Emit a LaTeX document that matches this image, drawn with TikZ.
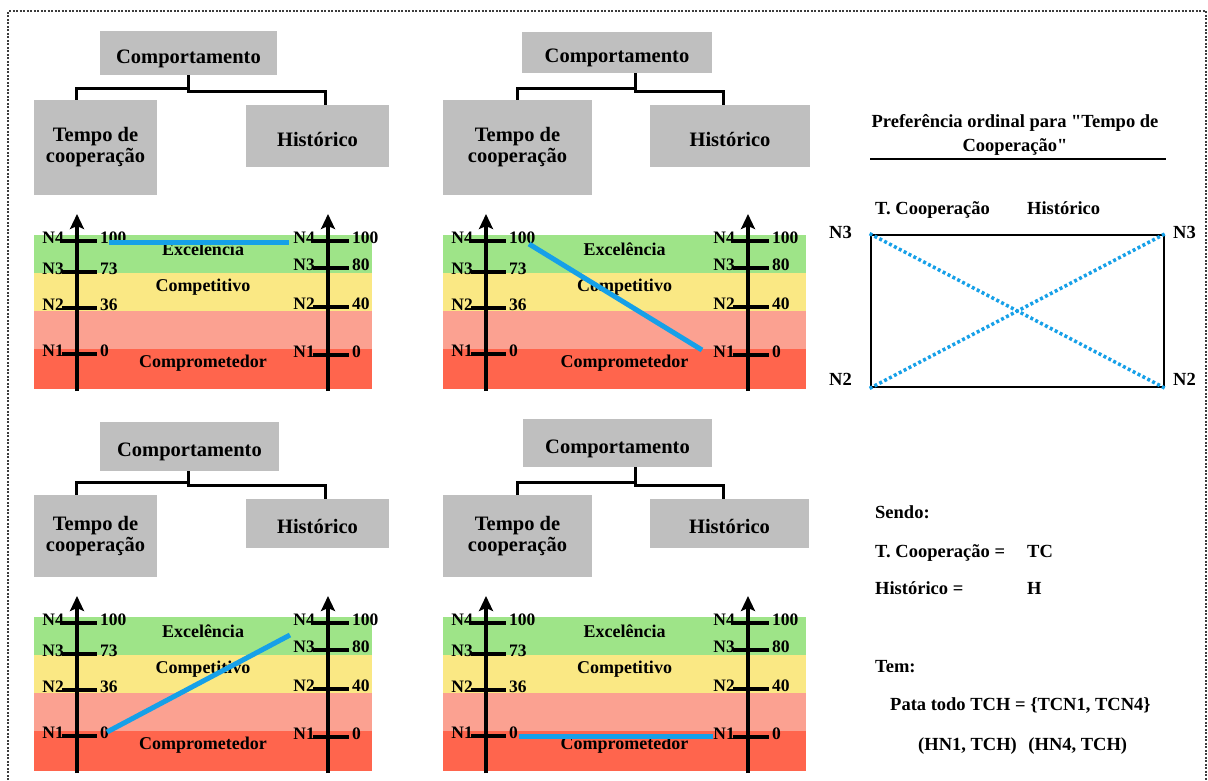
\documentclass[tikz,border=0pt]{standalone}
\usepackage{fontspec}
\setmainfont{Liberation Serif}[Ligatures=TeXOff]
\usetikzlibrary{arrows.meta}

\definecolor{gbox}{RGB}{191,191,191}
\definecolor{bandexc}{RGB}{158,228,136}
\definecolor{bandcomp}{RGB}{250,232,132}
\definecolor{bandrisk}{RGB}{251,161,145}
\definecolor{bandcrit}{RGB}{255,101,77}
\definecolor{linkblue}{RGB}{22,160,232}
\definecolor{framegray}{RGB}{60,60,60}

\tikzset{
  tbox/.style={fill=gbox, inner sep=0pt, align=center,
    font=\bfseries\fontsize{20.5}{21}\selectfont},
  tone/.style={tbox, text height=20pt, text depth=0pt},
  tlink/.style={line width=3pt, draw=black},
  bandlabel/.style={inner sep=0pt, font=\bfseries\fontsize{18}{20}\selectfont},
  scl/.style={inner sep=0pt, font=\bfseries\fontsize{17.5}{20}\selectfont},
  axisline/.style={line width=4pt, -{Stealth[length=15pt,width=14pt,inset=3pt]}},
  tickline/.style={line width=4pt},
  pathline/.style={line width=5pt, draw=linkblue},
  rtxt/.style={inner sep=0pt, font=\bfseries\fontsize{18.5}{24}\selectfont},
  dotline/.style={draw=linkblue, line width=3.5pt, dash pattern=on 3pt off 2.5pt},
  frameline/.style={draw=framegray, line width=1.2pt, dash pattern=on 2pt off 1.5pt},
}

% #1 prefix, #2 band left, #3 band right, #4 left axis x, #5 right axis x, #6 top of bands
\newcommand\scalechart[6]{%
  \fill[bandexc]  (#2,#6)     rectangle (#3,#6+38);
  \fill[bandcomp] (#2,#6+38)  rectangle (#3,#6+76);
  \fill[bandrisk] (#2,#6+76)  rectangle (#3,#6+114);
  \fill[bandcrit] (#2,#6+114) rectangle (#3,#6+154);
  \node[bandlabel] (#1-exc) at ({(#2+#3)/2},#6+14)  {Excelência};
  \node[bandlabel] (#1-cmp) at ({(#2+#3)/2},#6+52)  {Competitivo};
  \node[bandlabel] (#1-cpr) at ({(#2+#3)/2},#6+128) {Comprometedor};
  \draw[axisline] (#4,#6+156) -- (#4,#6-21);
  \draw[axisline] (#5,#6+156) -- (#5,#6-21);
  \foreach \lab/\val/\dy in {N4/100/6,N3/73/37,N2/36/73,N1/0/119}{
    \draw[tickline] (#4-15,#6+\dy) -- (#4+20,#6+\dy);
    \node[scl,anchor=mid east] (#1-L\lab) at (#4-13,#6+\dy) {\lab};
    \node[scl,anchor=mid west] (#1-l\lab) at (#4+23,#6+\dy) {\val};
  }
  \foreach \lab/\val/\dy in {N4/100/6,N3/80/33,N2/40/72,N1/0/120}{
    \draw[tickline] (#5-15,#6+\dy) -- (#5+21,#6+\dy);
    \node[scl,anchor=mid east] (#1-R\lab) at (#5-13,#6+\dy) {\lab};
    \node[scl,anchor=mid west] (#1-r\lab) at (#5+24,#6+\dy) {\val};
  }
}

\begin{document}
\begin{tikzpicture}[x=1pt,y=-1pt]
\useasboundingbox (0,0) rectangle (1208,780);

% dotted outer frame
\draw[frameline] (8,780) -- (8,11) -- (1206,11) -- (1206,780);

% ---------- hierarchy trees ----------
% top left
\node[tone, minimum width=177pt, minimum height=44pt] (c1) at (188.5,53) {Comportamento};
\node[tbox, minimum width=123pt, minimum height=95pt] (t1) at (95.5,147.5) {Tempo de\\cooperação};
\node[tone, minimum width=143pt, minimum height=62pt] (h1) at (317.5,136) {Histórico};
\draw[tlink] (c1.south) -- ++(0,13) -| ([xshift=43pt]t1.north west);
\draw[tlink] (c1.south) -- ++(0,16) -| ([xshift=80pt]h1.north west);

% top middle
\node[tone, minimum width=190pt, minimum height=41pt] (c2) at (617,52.5) {Comportamento};
\node[tbox, minimum width=149pt, minimum height=95pt] (t2) at (517.5,147.5) {Tempo de\\cooperação};
\node[tone, minimum width=160pt, minimum height=62pt] (h2) at (730,136) {Histórico};
\draw[tlink] ([xshift=18pt]c2.south) -- ++(0,15) -| ([xshift=75pt]t2.north west);
\draw[tlink] ([xshift=18pt]c2.south) -- ++(0,18) -| ([xshift=74pt]h2.north west);

% bottom left
\node[tone, minimum width=179pt, minimum height=49pt] (c3) at (189.5,446.5) {Comportamento};
\node[tbox, minimum width=123pt, minimum height=82pt] (t3) at (95.5,536) {Tempo de\\cooperação};
\node[tone, minimum width=143pt, minimum height=49pt] (h3) at (317.5,523.5) {Histórico};
\draw[tlink] ([xshift=-1.5pt]c3.south) -- ++(0,11) -| ([xshift=43pt]t3.north west);
\draw[tlink] ([xshift=-1.5pt]c3.south) -- ++(0,14) -| ([xshift=80pt]h3.north west);

% bottom middle
\node[tone, minimum width=189pt, minimum height=48pt] (c4) at (617.5,443) {Comportamento};
\node[tbox, minimum width=149pt, minimum height=82pt] (t4) at (517.5,536) {Tempo de\\cooperação};
\node[tone, minimum width=159pt, minimum height=49pt] (h4) at (729.5,523.5) {Histórico};
\draw[tlink] ([xshift=17.5pt]c4.south) -- ++(0,15) -| ([xshift=75pt]t4.north west);
\draw[tlink] ([xshift=17.5pt]c4.south) -- ++(0,18) -| ([xshift=74pt]h4.north west);

% ---------- scales ----------
\scalechart{a}{34}{372}{77}{328}{235}
\scalechart{b}{443}{806}{486}{748}{235}
\scalechart{c}{34}{372}{77}{328}{617}
\scalechart{d}{443}{806}{486}{748}{617}

% preference links between the two scales
\coordinate (a-from) at (109,242);  \coordinate (a-to) at (289,242);
\coordinate (b-from) at (529,244);  \coordinate (b-to) at (702,350);
\coordinate (c-from) at (107,732);  \coordinate (c-to) at (290,635);
\coordinate (d-from) at (519,736);  \coordinate (d-to) at (713,736);
\draw[pathline] (a-from) -- (a-to);
\draw[pathline] (b-from) -- (b-to);
\draw[pathline] (c-from) -- (c-to);
\draw[pathline] (d-from) -- (d-to);

% ---------- ordinal preference ----------
\node[rtxt, align=center] (ptitle) at (1015,135) {Preferência ordinal para "Tempo de\\Cooperação"};
\coordinate (ulA) at (870,159);
\coordinate (ulB) at (1166,159);
\draw[line width=2.5pt] (ulA) -- (ulB);

\node[rtxt, anchor=mid west] (hTC) at (875,212) {T. Cooperação};
\node[rtxt, anchor=mid west] (hH) at (1027,212) {Histórico};

\node[draw, line width=2.8pt, minimum width=293pt, minimum height=152pt, inner sep=0pt] (pref) at (1017.5,311) {};
\draw[dotline] (pref.north west) -- (pref.south east);
\draw[dotline] (pref.south west) -- (pref.north east);

\node[rtxt, anchor=mid east] (n3l) at (852,236) {N3};
\node[rtxt, anchor=mid west] (n3r) at (1173,236) {N3};
\node[rtxt, anchor=mid east] (n2l) at (852,383) {N2};
\node[rtxt, anchor=mid west] (n2r) at (1173,383) {N2};

% ---------- legend ----------
\node[rtxt, anchor=mid west] (sendo) at (875,516) {Sendo:};
\node[rtxt, anchor=mid west] (tcdef) at (875,555) {T. Cooperação =};
\node[rtxt, anchor=mid west] (tcab) at (1027,555) {TC};
\node[rtxt, anchor=mid west] (hdef) at (875,592) {Histórico =};
\node[rtxt, anchor=mid west] (hab) at (1027,592) {H};
\node[rtxt, anchor=mid west] (tem) at (875,670) {Tem:};
\node[rtxt, anchor=mid west] (pata) at (890,708) {Pata todo TCH = \{TCN1, TCN4\}};
\node[rtxt, anchor=mid west] (pairs) at (918,748) {(HN1, TCH)\hspace{7pt} (HN4, TCH)};
\end{tikzpicture}
\end{document}
